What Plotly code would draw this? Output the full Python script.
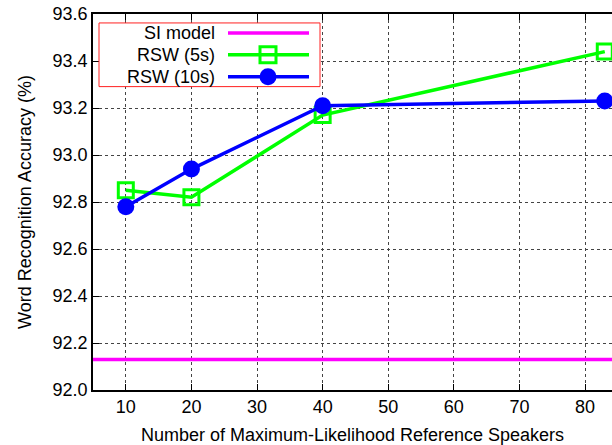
import plotly.graph_objects as go

# ---- data ----
speakers = [10, 20, 40, 83]
rsw_5s = [92.85, 92.82, 93.17, 93.44]
rsw_10s = [92.78, 92.94, 93.21, 93.23]
si_model = 92.13
x_ticks = [10, 20, 30, 40, 50, 60, 70, 80]
y_ticks = [92.0, 92.2, 92.4, 92.6, 92.8, 93.0, 93.2, 93.4, 93.6]
x_range = [5, 84.1]
y_range = [92.0, 93.6]

W, H = 612, 445
ML, MR, MT, MB = 93, 0, 14, 53
PW, PH = W - ML - MR, H - MT - MB

FONT = "Liberation Sans, Arial, sans-serif"
GREEN, BLUE, MAGENTA = "#00ff00", "#0000ff", "#ff00ff"

def px(xp):
    return (xp - ML) / PW

def py(yp):
    return (H - MB - yp) / PH

fig = go.Figure()
fig.add_trace(go.Scatter(x=x_range, y=[si_model, si_model], mode="lines",
                         line=dict(color=MAGENTA, width=3.5), showlegend=False,
                         cliponaxis=False))
fig.add_trace(go.Scatter(x=speakers, y=rsw_5s, mode="lines+markers",
                         line=dict(color=GREEN, width=3.5),
                         marker=dict(symbol="square-open", size=15, color=GREEN,
                                     line=dict(width=3, color=GREEN)),
                         showlegend=False, cliponaxis=False))
fig.add_trace(go.Scatter(x=speakers, y=rsw_10s, mode="lines+markers",
                         line=dict(color=BLUE, width=3.5),
                         marker=dict(symbol="circle", size=17, color=BLUE),
                         showlegend=False, cliponaxis=False))

shapes = []
annotations = []
# legend box
shapes.append(dict(type="rect", xref="paper", yref="paper",
                   x0=px(99), x1=px(320), y0=py(23), y1=py(87),
                   line=dict(color="#ff2020", width=1), fillcolor="white", layer="above"))
legend_items = [("SI model", MAGENTA, None), ("RSW (5s)", GREEN, "square"), ("RSW (10s)", BLUE, "circle")]
for i, (label, col, mk) in enumerate(legend_items):
    yc = 33 + 22 * i
    annotations.append(dict(xref="paper", yref="paper", x=px(217), y=py(yc), text=label,
                            showarrow=False, xanchor="right", yanchor="middle",
                            font=dict(family=FONT, size=18, color="black")))
    shapes.append(dict(type="line", xref="paper", yref="paper", x0=px(228), x1=px(309),
                       y0=py(yc), y1=py(yc), line=dict(color=col, width=3.5), layer="above"))
    if mk == "square":
        shapes.append(dict(type="rect", xref="paper", yref="paper", xsizemode="pixel", ysizemode="pixel",
                           xanchor=px(268), yanchor=py(yc), x0=-8, x1=8, y0=-8, y1=8,
                           line=dict(color=col, width=3), fillcolor="rgba(0,0,0,0)", layer="above"))
    elif mk == "circle":
        shapes.append(dict(type="circle", xref="paper", yref="paper", xsizemode="pixel", ysizemode="pixel",
                           xanchor=px(268), yanchor=py(yc), x0=-8.5, x1=8.5, y0=-8.5, y1=8.5,
                           line=dict(color=col, width=0), fillcolor=col, layer="above"))

fig.update_layout(
    width=W, height=H,
    margin=dict(l=ML, r=MR, t=MT, b=MB),
    paper_bgcolor="white", plot_bgcolor="white",
    font=dict(family=FONT, size=18, color="black"),
    shapes=shapes, annotations=annotations,
    showlegend=False,
)
fig.update_xaxes(range=x_range, tickvals=x_ticks, ticks="inside", ticklen=6, tickcolor="black",
                 showline=True, linecolor="black", linewidth=1.5, mirror="ticks",
                 showgrid=True, gridcolor="#444444", griddash="dot", gridwidth=1,
                 zeroline=False, tickfont=dict(size=18),
                 title=dict(text="Number of Maximum-Likelihood Reference Speakers",
                            font=dict(size=18), standoff=15))
fig.update_yaxes(range=y_range, tickvals=y_ticks, tickformat=".1f", ticks="inside", ticklen=6,
                 tickcolor="black", showline=True, linecolor="black", linewidth=1.5,
                 showgrid=True, gridcolor="#444444", griddash="dot", gridwidth=1,
                 zeroline=False, tickfont=dict(size=18),
                 title=dict(text="Word Recognition Accuracy (%)", font=dict(size=18), standoff=16))

fig.write_html("out.html", config={"displayModeBar": False})

# remove default page margin so the figure sits at the window's top-left corner
with open("out.html", "r", encoding="utf-8") as f:
    html = f.read()
html = html.replace("<body>", '<body style="margin:0;padding:0;overflow:hidden;">', 1)
with open("out.html", "w", encoding="utf-8") as f:
    f.write(html)
